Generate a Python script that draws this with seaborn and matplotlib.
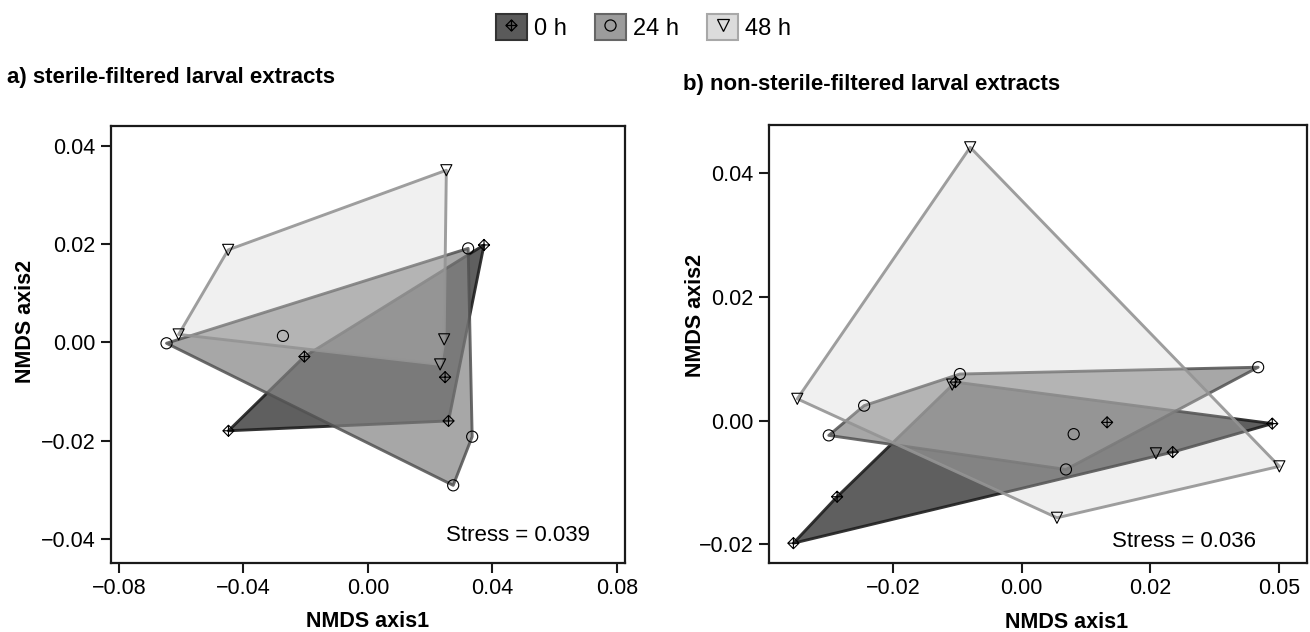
import numpy as np
import pandas as pd
import matplotlib
matplotlib.use("Agg")
import matplotlib.pyplot as plt
from matplotlib.path import Path
from matplotlib.patches import Polygon, Patch
from matplotlib.lines import Line2D
from matplotlib import ticker
import seaborn as sns

# ---- data ----
groups = ["0 h", "24 h", "48 h"]

# a) sterile-filtered larval extracts
a_0h_x = [0.0373, -0.0204, 0.0248, 0.0259, -0.0448]
a_0h_y = [0.0198, -0.0029, -0.0071, -0.0160, -0.0180]
a_24h_x = [0.0322, -0.0273, -0.0647, 0.0335, 0.0274]
a_24h_y = [0.0191, 0.0013, -0.0002, -0.0192, -0.0291]
a_48h_x = [0.0252, -0.0449, -0.0608, 0.0245, 0.0232]
a_48h_y = [0.0350, 0.0188, 0.0016, 0.0006, -0.0045]

# b) non-sterile-filtered larval extracts
b_0h_x = [-0.0103, 0.0133, 0.0235, 0.0390, -0.0287, -0.0355]
b_0h_y = [0.0062, -0.0003, -0.0051, -0.0005, -0.0123, -0.0198]
b_24h_x = [-0.0096, -0.0245, -0.0300, 0.0081, 0.0069, 0.0368]
b_24h_y = [0.0075, 0.0024, -0.0024, -0.0022, -0.0079, 0.0086]
b_48h_x = [-0.0080, -0.0349, -0.0108, 0.0055, 0.0209, 0.0401]
b_48h_y = [0.0441, 0.0035, 0.0058, -0.0157, -0.0053, -0.0074]

stress = {"a": "Stress = 0.039", "b": "Stress = 0.036"}
titles = {"a": "a) sterile-filtered larval extracts",
          "b": "b) non-sterile-filtered larval extracts"}

a_xticks = [-0.08, -0.04, 0.00, 0.04, 0.08]
a_yticks = [-0.04, -0.02, 0.00, 0.02, 0.04]
b_xticks = [-0.02, 0.00, 0.02, 0.04]
b_xticklabels = ["\u22120.02", "0.00", "0.02", "0.05"]
b_yticks = [-0.02, 0.00, 0.02, 0.04]


def make_df(xs, ys):
    rows = []
    for g, x, y in zip(groups, xs, ys):
        for xi, yi in zip(x, y):
            rows.append({"time": g, "x": xi, "y": yi})
    return pd.DataFrame(rows)


df_a = make_df([a_0h_x, a_24h_x, a_48h_x], [a_0h_y, a_24h_y, a_48h_y])
df_b = make_df([b_0h_x, b_24h_x, b_48h_x], [b_0h_y, b_24h_y, b_48h_y])


def hull(pts):
    # monotone chain convex hull
    pts = sorted(map(tuple, pts))
    def cross(o, a, b):
        return (a[0] - o[0]) * (b[1] - o[1]) - (a[1] - o[1]) * (b[0] - o[0])
    lower, upper = [], []
    for p in pts:
        while len(lower) >= 2 and cross(lower[-2], lower[-1], p) <= 0:
            lower.pop()
        lower.append(p)
    for p in reversed(pts):
        while len(upper) >= 2 and cross(upper[-2], upper[-1], p) <= 0:
            upper.pop()
        upper.append(p)
    return lower[:-1] + upper[:-1]


# diamond with a cross inside
diamond_cross = Path(
    [(0, 1), (1, 0), (0, -1), (-1, 0), (0, 1), (0, 1), (0, -1), (-1, 0), (1, 0)],
    [Path.MOVETO, Path.LINETO, Path.LINETO, Path.LINETO, Path.CLOSEPOLY,
     Path.MOVETO, Path.LINETO, Path.MOVETO, Path.LINETO])
markers = {"0 h": diamond_cross, "24 h": "o", "48 h": "v"}

fills = {"0 h": (0.30, 0.30, 0.30, 0.9),
         "24 h": (0.52, 0.52, 0.52, 0.72),
         "48 h": (0.82, 0.82, 0.82, 0.32)}
edges = {"0 h": (0.12, 0.12, 0.12, 0.9),
         "24 h": (0.32, 0.32, 0.32, 0.85),
         "48 h": (0.58, 0.58, 0.58, 0.9)}
legend_fc = {"0 h": "#5a5a5a", "24 h": "#9c9c9c", "48 h": "#dcdcdc"}
legend_ec = {"0 h": "#333333", "24 h": "#666666", "48 h": "#a8a8a8"}

sns.set_theme(style="ticks")
plt.rcParams["font.family"] = ["Liberation Sans", "DejaVu Sans"]
plt.rcParams["text.color"] = "black"
plt.rcParams["axes.labelcolor"] = "black"
plt.rcParams["xtick.color"] = "black"
plt.rcParams["ytick.color"] = "black"

fig = plt.figure(figsize=(13.1, 6.32), dpi=100)
ax_a = fig.add_axes([110.5 / 1310, 1 - 563 / 632, 514.5 / 1310, 437 / 632])
ax_b = fig.add_axes([769 / 1310, 1 - 563 / 632, 538 / 1310, 438 / 632])

minus_fmt = ticker.FuncFormatter(lambda v, p: f"{v:.2f}".replace("-", "\u2212"))


def draw_panel(ax, df):
    for g in groups:
        sub = df[df["time"] == g]
        poly = Polygon(hull(sub[["x", "y"]].values), closed=True,
                       facecolor=fills[g], edgecolor=edges[g], linewidth=2.1,
                       joinstyle="round", zorder=1)
        ax.add_patch(poly)
    sns.scatterplot(data=df, x="x", y="y", style="time", markers=markers,
                    style_order=groups, s=64, facecolor="none",
                    edgecolor="black", linewidth=0.8, legend=False, ax=ax,
                    zorder=3)
    for sp in ax.spines.values():
        sp.set_linewidth(1.6)
        sp.set_color("#1a1a1a")
    ax.tick_params(length=7, width=1.5, labelsize=15.5, color="#1a1a1a",
                   labelcolor="black", pad=4)
    ax.set_xlabel("NMDS axis1", fontsize=15.5, fontweight="bold")
    ax.set_ylabel("NMDS axis2", fontsize=15.5, fontweight="bold")


draw_panel(ax_a, df_a)
ax_a.set_xlim(-0.0827, 0.0826)
ax_a.set_ylim(-0.0449, 0.0440)
ax_a.set_xticks(a_xticks)
ax_a.set_yticks(a_yticks)
ax_a.xaxis.set_major_formatter(minus_fmt)
ax_a.yaxis.set_major_formatter(minus_fmt)
ax_a.xaxis.set_label_coords(0.5, -0.135)
ax_a.yaxis.set_label_coords(-0.166, 0.553)
ax_a.xaxis.label.set_va("center")
ax_a.yaxis.label.set_va("center")
ax_a.text(0.932, 0.062, stress["a"], transform=ax_a.transAxes, ha="right",
          va="center", fontsize=16)

draw_panel(ax_b, df_b)
ax_b.set_xlim(-0.0393, 0.0444)
ax_b.set_ylim(-0.0230, 0.0477)
ax_b.set_xticks(b_xticks)
ax_b.set_xticklabels(b_xticklabels)
ax_b.set_yticks(b_yticks)
ax_b.yaxis.set_major_formatter(minus_fmt)
ax_b.xaxis.set_label_coords(0.554, -0.135)
ax_b.yaxis.set_label_coords(-0.1375, 0.566)
ax_b.xaxis.label.set_va("center")
ax_b.yaxis.label.set_va("center")
ax_b.text(0.905, 0.048, stress["b"], transform=ax_b.transAxes, ha="right",
          va="center", fontsize=16)

fig.text(7 / 1310, 1 - 83 / 632, titles["a"], fontsize=16, fontweight="bold",
         ha="left", va="baseline")
fig.text(683 / 1310, 1 - 90 / 632, titles["b"], fontsize=16, fontweight="bold",
         ha="left", va="baseline")

handles = []
for g in groups:
    box = Patch(facecolor=legend_fc[g], edgecolor=legend_ec[g], linewidth=1.5)
    mk = Line2D([], [], linestyle="none", marker=markers[g], markersize=8,
                markerfacecolor="none", markeredgecolor="black",
                markeredgewidth=0.9)
    handles.append((box, mk))
fig.legend(handles, groups, loc="center", bbox_to_anchor=(643.5 / 1310, 1 - 27 / 632),
           ncol=3, frameon=False, fontsize=17, handlelength=1.3,
           handleheight=1.3, handletextpad=0.3, columnspacing=1.2,
           borderpad=0)

fig.savefig("out.png", dpi=100)
